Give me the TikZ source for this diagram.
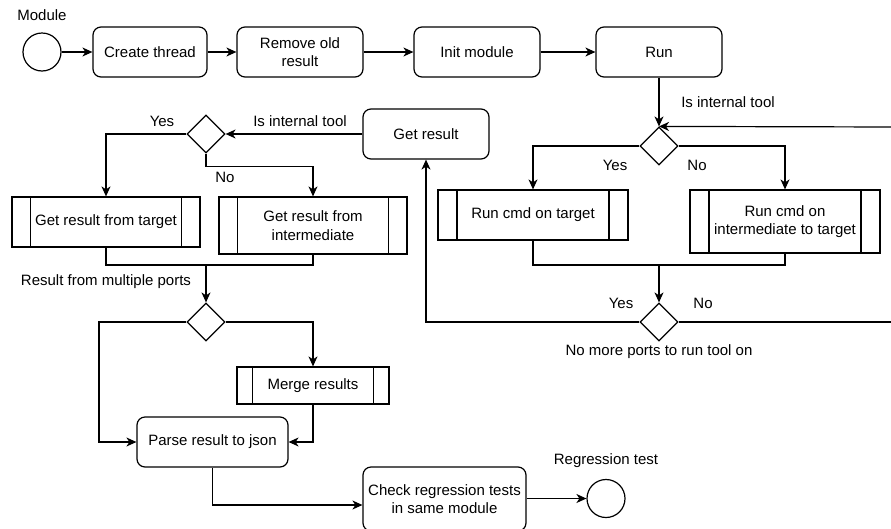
\documentclass[tikz,border=0pt]{standalone}
\usepackage{fontspec}
\setmainfont{Liberation Sans}
\usetikzlibrary{shapes.geometric,arrows.meta,calc}
\begin{document}
\begin{tikzpicture}[x=1pt,y=-1pt,
  every node/.style={font=\fontsize{15}{18.5}\selectfont, inner sep=0pt},
  line/.style={line width=1.2pt},
  arr/.style={line width=1.2pt, -{Stealth[length=10pt,width=9pt,inset=3pt]}},
  procbox/.style={draw, line width=1.2pt, rounded corners=8pt, align=center,
    minimum height=50pt},
  subbox/.style={draw, line width=1.2pt, align=center, minimum height=50pt,
    path picture={
      \draw[line width=1.2pt]
        ($(path picture bounding box.north west)!0.1!(path picture bounding box.north east)$) --
        ($(path picture bounding box.south west)!0.1!(path picture bounding box.south east)$);
      \draw[line width=1.2pt]
        ($(path picture bounding box.north west)!0.9!(path picture bounding box.north east)$) --
        ($(path picture bounding box.south west)!0.9!(path picture bounding box.south east)$);
    }},
  decbox/.style={draw, line width=1.2pt, diamond, aspect=1, minimum width=38pt, minimum height=38pt},
  endpoint/.style={draw, line width=1.2pt, circle, minimum size=38pt},
  lbl/.style={align=center}
]
\useasboundingbox (0,0) rectangle (891,528);

% top row
\node[endpoint] (start) at (42,52) {};
\node[lbl] (lmodule) at (42,15) {Module};
\node[procbox, minimum width=114pt] (create) at (150,52) {Create thread};
\node[procbox, minimum width=126pt] (remove) at (300,52) {Remove old\\result};
\node[procbox, minimum width=126pt] (init) at (477,52) {Init module};
\node[procbox, minimum width=126pt] (run) at (659,52) {Run};

\draw[arr] (start) -- (create);
\draw[arr] (create) -- (remove);
\draw[arr] (remove) -- (init);
\draw[arr] (init) -- (run);

% running the tool on each port
\node[decbox] (d1) at (659,146) {};
\node[lbl] (l1) at (728,102) {Is internal tool};
\node[lbl] (l1y) at (615,165) {Yes};
\node[lbl] (l1n) at (697,165) {No};
\node[subbox, minimum width=190pt] (rct) at (533,215) {Run cmd on target};
\node[subbox, minimum width=190pt, minimum height=63pt] (rci) at (785,221.5) {Run cmd on\\intermediate to target};
\coordinate (j1) at (659,265);
\node[decbox] (d2) at (659,322) {};
\node[lbl] (l2y) at (621,303) {Yes};
\node[lbl] (l2n) at (703,303) {No};
\node[lbl] (l2) at (659,352) {No more ports to run tool on};
\coordinate (loopa) at (895,322);
\coordinate (loopb) at (895,127);

\draw[arr] (run) -- (d1);
\draw[arr] (d1.west) -| (rct.north);
\draw[arr] (d1.east) -| (rci.north);
\draw[line] (rct.south) |- (j1);
\draw[line] (rci.south) |- (j1);
\draw[arr] (j1) -- (d2.north);
\draw[line] (d2.east) -- (loopa) -- (loopb);
\draw[arr] (loopb) -- (d1.north);

% collecting results
\node[procbox, minimum width=126pt] (gr) at (426,134) {Get result};
\draw[arr] (d2.west) -| (gr.south);

\node[decbox] (d3) at (206,134) {};
\node[lbl] (l3) at (300,121) {Is internal tool};
\node[lbl] (l3y) at (162,121) {Yes};
\node[lbl] (l3n) at (225,177) {No};
\node[subbox, minimum width=188pt] (grt) at (106,222) {Get result from target};
\node[subbox, minimum width=188pt, minimum height=57pt] (gri) at (313,225.5) {Get result from\\intermediate};
\coordinate (j2) at (206,265);
\node[lbl] (l4) at (106,282) {Result from multiple ports};
\node[decbox] (d4) at (206,322) {};
\node[subbox, minimum width=152pt, minimum height=37pt] (merge) at (313,385.5) {Merge results};
\node[procbox, minimum width=151pt] (parse) at (212.5,442) {Parse result to json};
\node[procbox, minimum width=163pt, minimum height=64pt] (check) at (444.5,499) {Check regression tests\\in same module};
\node[endpoint] (endc) at (606,498.5) {};
\node[lbl] (lend) at (606,461) {Regression test};

\draw[arr] (gr) -- (d3);
\draw[arr] (d3.west) -| (grt.north);
\draw[arr] (d3.south) -- ++(0,13) -| (gri.north);
\draw[line] (grt.south) |- (j2);
\draw[line] (gri.south) |- (j2);
\draw[arr] (j2) -- (d4.north);
\draw[arr] (d4.west) -- (99,322) |- (parse.west);
\draw[arr] (d4.east) -| (merge.north);
\draw[arr] (merge.south) |- (parse.east);
\draw[arr] (parse.south) |- ([yshift=-6pt]check.west);
\draw[arr] (check.east |- endc) -- (endc);
\end{tikzpicture}
\end{document}
